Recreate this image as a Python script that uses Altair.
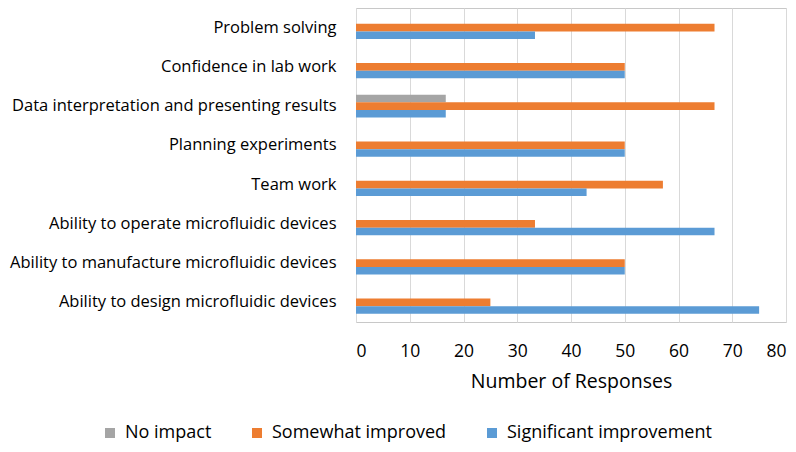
import altair as alt
import pandas as pd

categories = [
    "Problem solving",
    "Confidence in lab work",
    "Data interpretation and presenting results",
    "Planning experiments",
    "Team work",
    "Ability to operate microfluidic devices",
    "Ability to manufacture microfluidic devices",
    "Ability to design microfluidic devices",
]
series = ["No impact", "Somewhat improved", "Significant improvement"]
no_impact = [0, 0, 16.7, 0, 0, 0, 0, 0]
somewhat = [66.7, 50, 66.7, 50, 57.1, 33.3, 50, 25]
significant = [33.3, 50, 16.7, 50, 42.9, 66.7, 50, 75]
colors = ["#A5A5A5", "#ED7D31", "#5B9BD5"]
x_ticks = [0, 10, 20, 30, 40, 50, 60, 70, 80]

rows = []
for i, c in enumerate(categories):
    for s, vals in zip(series, [no_impact, somewhat, significant]):
        rows.append({"Category": c, "Series": s, "Value": vals[i]})
df = pd.DataFrame(rows)

FONT = "Open Sans"

chart = (
    alt.Chart(df)
    .mark_bar()
    .encode(
        y=alt.Y(
            "Category:N",
            sort=categories,
            scale=alt.Scale(paddingInner=0.425, paddingOuter=0.2125),
            axis=alt.Axis(
                title=None,
                ticks=False,
                domain=False,
                labelFontSize=16.5,
                labelPadding=20,
                labelColor="#000000",
                labelFont=FONT,
                labelLimit=400,
            ),
        ),
        yOffset=alt.YOffset("Series:N", sort=series, scale=alt.Scale(domain=series, paddingInner=0, paddingOuter=0)),
        x=alt.X(
            "Value:Q",
            scale=alt.Scale(domain=[0, 80], nice=False),
            axis=alt.Axis(
                values=x_ticks,
                title="Number of Responses",
                ticks=False,
                domain=False,
                grid=True,
                gridColor="#D9D9D9",
                gridWidth=1,
                labelFontSize=17.5,
                labelPadding=20,
                labelColor="#000000",
                labelFont=FONT,
                titleFont=FONT,
                titleFontSize=19.5,
                titleFontWeight="normal",
                titleColor="#000000",
                titlePadding=13,
            ),
        ),
        color=alt.Color(
            "Series:N",
            sort=series,
            scale=alt.Scale(domain=series, range=colors),
            legend=alt.Legend(
                title=None,
                orient="none",
                direction="horizontal",
                legendX=-255,
                legendY=416,
                symbolType="square",
                symbolSize=100,
                symbolStrokeWidth=0,
                labelFontSize=18,
                labelFont=FONT,
                labelColor="#000000",
                labelLimit=400,
                columnPadding=36,
                labelOffset=6,
            ),
        ),
    )
    .properties(
        width=430,
        height=314,
        autosize=alt.AutoSizeParams(type="none"),
        padding={"left": 348, "top": 0, "right": 2, "bottom": 122},
    )
    .configure_view(stroke="#C8C8C8", strokeWidth=1)
)

chart.save("out.html", embed_options={"renderer": "svg", "actions": False})
